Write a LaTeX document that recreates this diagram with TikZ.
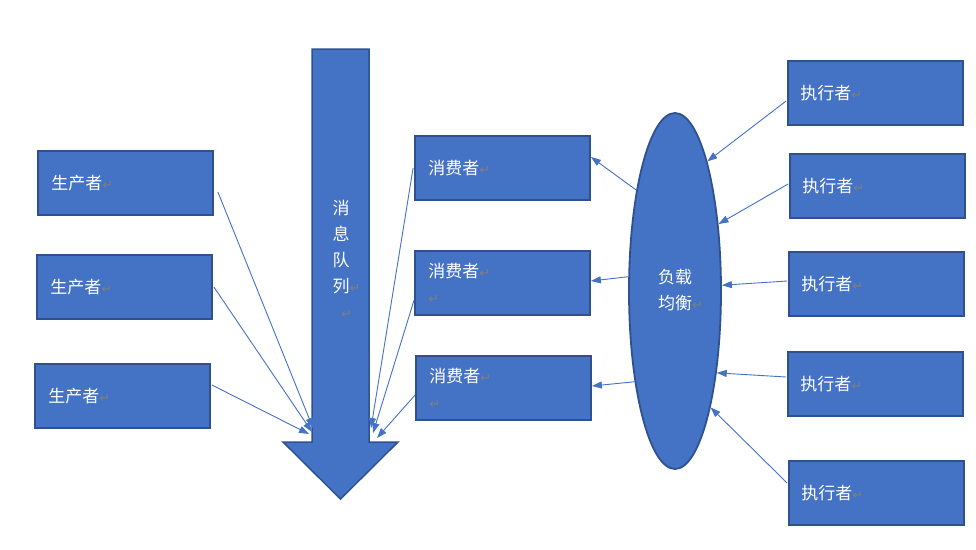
\documentclass[tikz,border=0pt]{standalone}
\usepackage{fontspec}
\newfontfamily\cjk{Noto Sans CJK SC}
\newfontfamily\symf{DejaVu Sans}
\usetikzlibrary{arrows.meta,shapes.geometric,calc}
\definecolor{boxblue}{HTML}{4472C4}
\definecolor{boxedge}{HTML}{2F528F}
\definecolor{retgray}{HTML}{7F7F7F}
\newcommand\rt{{\symf\fontsize{13}{13}\selectfont\textcolor{retgray}{↵}}}
\newcommand\cs{\vphantom{消}}
\begin{document}
\begin{tikzpicture}[x=1pt,y=-1pt,
  box/.style={draw=boxedge,line width=1.8pt,fill=boxblue,minimum width=175pt,minimum height=64pt,inner sep=0pt},
  lbl/.style={font=\cjk\fontsize{17}{26}\selectfont,text=white,inner sep=0pt,anchor=west,align=left},
  conn/.style={draw=boxblue,line width=0.9pt,-{Triangle[length=10pt,width=7pt]}},
]
\fill[white] (0,0) rectangle (976,549);
\useasboundingbox (0,0) rectangle (976,549);

% message queue arrow
\filldraw[fill=boxblue,draw=boxedge,line width=1.5pt,line join=miter]
  (312,49) -- (369,49) -- (369,442) -- (398,442) -- (340.5,499) -- (283,442) -- (312,442) -- cycle;
\node[lbl,anchor=center,align=center] (qt) at (341,260) {消\cs\\息\cs\\队\cs\\列\rlap{\rt}\cs\\\rlap{\rt}\cs};
\coordinate (qL1) at (313,428);
\coordinate (qL2) at (312,432);
\coordinate (qL3) at (309,434);
\coordinate (qR1) at (371,428);
\coordinate (qR2) at (373,433);
\coordinate (qR3) at (377,438);

% producers
\node[box] (p1) at (125.5,183) {};
\node[box] (p2) at (124.5,287) {};
\node[box] (p3) at (122.5,396) {};
\node[lbl] (p1t) at ([xshift=14pt]p1.west) {生产者\rt};
\node[lbl] (p2t) at ([xshift=14pt]p2.west) {生产者\rt};
\node[lbl] (p3t) at ([xshift=14pt]p3.west) {生产者\rt};

% consumers
\node[box] (c1) at (502.5,168) {};
\node[box] (c2) at (502.5,283) {};
\node[box] (c3) at (503.5,388) {};
\node[lbl] (c1t) at ([xshift=14pt]c1.west) {消费者\rt};
\node[lbl] (c2t) at ([xshift=14pt,yshift=-1pt]c2.west) {消费者\rt\cs\\\rt\cs};
\node[lbl] (c3t) at ([xshift=14pt,yshift=-1pt]c3.west) {消费者\rt\cs\\\rt\cs};

% load balancer
\node[ellipse,draw=boxedge,line width=1.8pt,fill=boxblue,minimum width=92pt,minimum height=356pt,inner sep=0pt] (lb) at (675,291) {};
\node[lbl,anchor=center,align=center] (lbt) at (675,290.5) {负载\cs\\均衡\rlap{\rt}\cs};

% executors
\node[box] (e1) at (875.5,93) {};
\node[box] (e2) at (877.5,186) {};
\node[box] (e3) at (876.5,284) {};
\node[box] (e4) at (875.5,384) {};
\node[box] (e5) at (876.5,493) {};
\node[lbl] (e1t) at ([xshift=13pt]e1.west) {执行者\rt};
\node[lbl] (e2t) at ([xshift=13pt]e2.west) {执行者\rt};
\node[lbl] (e3t) at ([xshift=13pt]e3.west) {执行者\rt};
\node[lbl] (e4t) at ([xshift=13pt]e4.west) {执行者\rt};
\node[lbl] (e5t) at ([xshift=13pt]e5.west) {执行者\rt};

% connectors: producers -> queue
\draw[conn] ([xshift=4pt,yshift=-9pt]p1.east) -- (qL1);
\draw[conn] ([xshift=1pt]p2.east) -- (qL2);
\draw[conn] ([xshift=1pt,yshift=11pt]p3.east) -- (qL3);

% consumers -> queue
\draw[conn] ([xshift=-1pt]c1.west) -- (qR1);
\draw[conn] ([yshift=-17pt]c2.west) -- (qR2);
\draw[conn] ([yshift=-7pt]c3.west) -- (qR3);

% load balancer -> consumers
\draw[conn] (lb.111.5) -- ([yshift=11pt]c1.east);
\draw[conn] (lb.163) -- ([yshift=2pt]c2.east);
\draw[conn] (lb.-114.5) -- ([yshift=2pt]c3.east);

% executors -> load balancer
\draw[conn] ([xshift=-1pt,yshift=-8pt]e1.west) -- (lb.76);
\draw[conn] ([xshift=-1pt,yshift=2pt]e2.west) -- (lb.57);
\draw[conn] ([xshift=-1pt,yshift=3pt]e3.west) -- (lb.7);
\draw[conn] ([xshift=-1pt,yshift=7pt]e4.west) -- (lb.-63);
\draw[conn] ([xshift=-1pt,yshift=10pt]e5.west) -- (lb.-73);
\end{tikzpicture}
\end{document}
